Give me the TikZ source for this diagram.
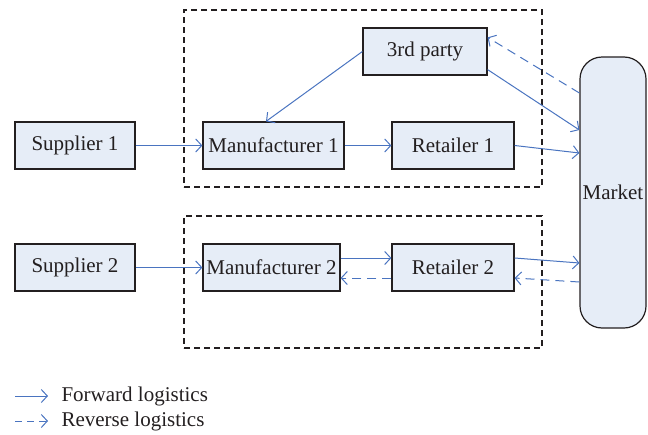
\documentclass[tikz,border=0pt]{standalone}
\usepackage{fontspec}
\setmainfont{Liberation Serif}
\usetikzlibrary{arrows.meta}
\definecolor{flowblue}{HTML}{4A74C0}
\definecolor{boxfill}{HTML}{E6EDF7}
\definecolor{inkgray}{HTML}{231F20}
\tikzset{
  box/.style={draw=inkgray, line width=1.2pt, fill=boxfill, minimum height=47pt,
    inner sep=0pt, text=inkgray, font=\fontsize{21}{25}\selectfont},
  group/.style={draw=inkgray, line width=1.1pt, dash pattern=on 6pt off 4pt,
    inner sep=0pt},
  fwd/.style={draw=flowblue, line width=1pt, -{Straight Barb[length=6pt,width=13pt]}},
  rev/.style={fwd, dash pattern=on 9pt off 6pt},
  legendtext/.style={anchor=west, text=inkgray, font=\fontsize{21}{25}\selectfont}
}
\begin{document}
\begin{tikzpicture}[x=1pt, y=-1pt]
\useasboundingbox (0,0) rectangle (648,434);

% firm groupings
\node[group, minimum width=358pt, minimum height=177pt] (G1) at (363,98.5) {};
\node[group, minimum width=358pt, minimum height=132pt] (G2) at (363,282) {};

% actors
\node[box, minimum width=120pt] (S1) at (75,145.5) {Supplier 1};
\node[box, minimum width=141pt] (M1) at (273.5,145.5) {Manufacturer 1};
\node[box, minimum width=122pt] (R1) at (453,145.5) {Retailer 1};
\node[box, minimum width=124pt] (TP) at (425,51.5) {3rd party};
\node[box, minimum width=120pt] (S2) at (75,267.5) {Supplier 2};
\node[box, minimum width=137pt] (M2) at (271.5,267.5) {Manufacturer 2};
\node[box, minimum width=122pt] (R2) at (453,267.5) {Retailer 2};
\node[box, minimum width=66pt, minimum height=271pt, rounded corners=22pt] (MK) at (613,192.5) {Market};

% forward flows
\draw[fwd] (S1) -- (M1);
\draw[fwd] (M1) -- (R1);
\draw[fwd] (R1.east) -- (MK.west |- 0,153);
\draw[fwd] (TP.west) -- ([xshift=-7.5pt]M1.north);
\draw[fwd] ([yshift=6pt]TP.south east) -- (MK.west |- 0,130);
\draw[fwd] (S2) -- (M2);
\draw[fwd] ([yshift=9.5pt]M2.east) -- ([yshift=9.5pt]R2.west);
\draw[fwd] ([yshift=9.5pt]R2.east) -- (MK.west |- 0,263);

% reverse flows
\draw[rev] (MK.west |- 0,93) -- ([yshift=-10pt]TP.north east);
\draw[rev] ([yshift=-10.5pt]R2.west) -- ([yshift=-10.5pt]M2.east);
\draw[rev] (MK.west |- 0,282) -- ([yshift=-10.5pt]R2.east);

% legend
\coordinate (LF1) at (15,396);
\coordinate (LF2) at (48,396);
\coordinate (LR1) at (15,421);
\coordinate (LR2) at (48,421);
\draw[fwd] (LF1) -- (LF2);
\draw[rev, dash pattern=on 7pt off 5pt] (LR1) -- (LR2);
\node[legendtext] (LFT) at (58,396) {Forward logistics};
\node[legendtext] (LRT) at (58,421) {Reverse logistics};
\end{tikzpicture}
\end{document}
